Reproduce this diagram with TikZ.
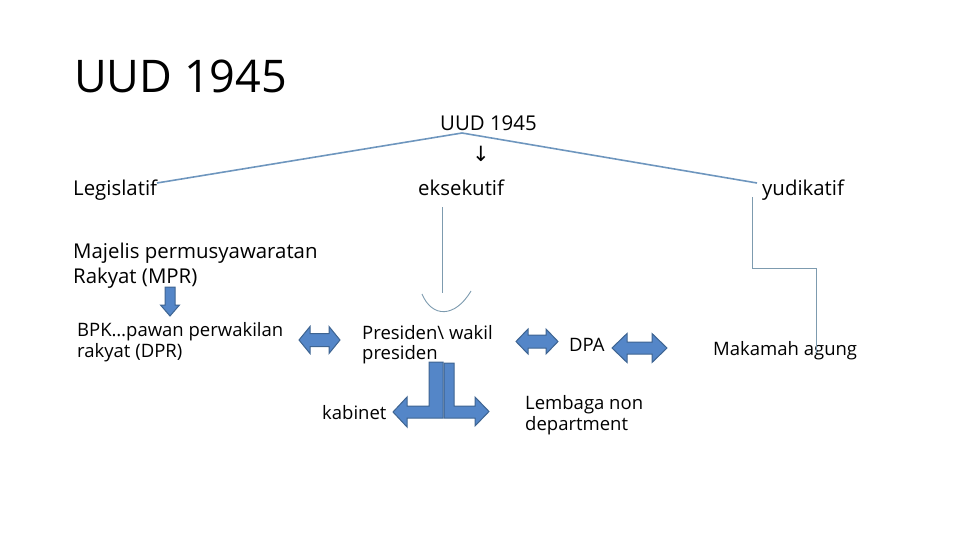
\documentclass[tikz,border=0pt]{standalone}
\usepackage{fontspec}
\setmainfont{Open Sans}
\newfontfamily\symfont{DejaVu Sans}
\definecolor{arrfill}{RGB}{84,134,200}
\definecolor{arrline}{RGB}{62,100,145}
\definecolor{conn}{RGB}{110,150,190}
\definecolor{thinconn}{RGB}{125,155,175}
\newcommand{\blockdbl}[6]{%
  \draw[blockarrow] (#1,#3) -- (#1+#6,#3-#4) -- (#1+#6,#3-#5) -- (#2-#6,#3-#5) -- (#2-#6,#3-#4)
   -- (#2,#3) -- (#2-#6,#3+#4) -- (#2-#6,#3+#5) -- (#1+#6,#3+#5) -- (#1+#6,#3+#4) -- cycle;}
\begin{document}
\begin{tikzpicture}[x=1pt,y=-1pt,
  txt/.style={anchor=base west,inner sep=0pt,font=\fontsize{18.5}{22}\selectfont},
  bigtxt/.style={anchor=base west,inner sep=0pt,font=\fontsize{20.4}{24}\selectfont},
  blockarrow/.style={fill=arrfill,draw=arrline,line width=1pt,line join=miter},
  mainline/.style={draw=conn,line width=1.6pt},
  thinline/.style={draw=thinconn,line width=0.9pt}]
\useasboundingbox (0,0) rectangle (960,540);
% title
\node[anchor=base west,inner sep=0pt,font=\fontsize{45}{54}\selectfont] (title) at (74,93) {UUD 1945};
% top
\node[bigtxt] (uud) at (440,131) {UUD 1945};
\node[anchor=base,inner sep=0pt,font=\symfont\fontsize{21}{24}\selectfont] (down) at (481,161) {↓};
\node[bigtxt] (leg) at (73,195) {Legislatif};
\node[bigtxt] (eks) at (418,195) {eksekutif};
\node[bigtxt] (yud) at (762,195) {yudikatif};
\coordinate (apex) at (462,133);
\coordinate (legend) at (157,183);
\coordinate (yudend) at (757,183);
\draw[mainline] (legend) -- (apex) -- (yudend);
% legislatif branch
\node[bigtxt] (mpr1) at (73,258) {Majelis permusyawaratan};
\node[bigtxt] (mpr2) at (73,283) {Rakyat (MPR)};
\node[txt] (bpk1) at (77,336) {BPK…pawan perwakilan};
\node[txt] (bpk2) at (77,357) {rakyat (DPR)};
\draw[blockarrow] (165,287) -- (175,287) -- (175,305) -- (179.5,305) -- (170,316) -- (160.5,305) -- (165,305) -- cycle;
\blockdbl{299}{340}{340}{13.5}{6.5}{11}
% eksekutif branch
\coordinate (ekstop) at (442,207);
\coordinate (eksbot) at (442,293);
\draw[thinline] (ekstop) -- (eksbot);
\coordinate (cupl) at (422,294);
\coordinate (cupr) at (471,291);
\draw[thinline] (cupl) .. controls (432,318) and (455,318) .. (cupr);
\node[txt] (pres1) at (362,339) {Presiden\textbackslash{} wakil};
\node[txt] (pres2) at (362,359) {presiden};
\node[txt] (dpa) at (569,351) {DPA};
\blockdbl{516}{558}{341.5}{12.5}{6.5}{12}
\blockdbl{612}{667}{348}{14.5}{6}{15}
\draw[blockarrow] (429,362) -- (443,362) -- (443,418) -- (407,418) -- (407,427) -- (393,412) -- (407,397) -- (407,406) -- (429,406) -- cycle;
\draw[blockarrow] (444,363) -- (454,363) -- (454,406) -- (475,406) -- (475,397) -- (489,411.5) -- (475,426) -- (475,418) -- (444,418) -- cycle;
\node[txt] (kab) at (322,419) {kabinet};
\node[txt] (lem1) at (525,409) {Lembaga non};
\node[txt] (lem2) at (525,430) {department};
% yudikatif branch
\coordinate (yudtop) at (752,197);
\coordinate (yudmid1) at (752,268);
\coordinate (yudmid2) at (816,268);
\node[txt] (ma) at (713,355) {Makamah agung};
\draw[thinline] (yudtop) -- (yudmid1) -- (yudmid2) -- (816,353);
\end{tikzpicture}
\end{document}
